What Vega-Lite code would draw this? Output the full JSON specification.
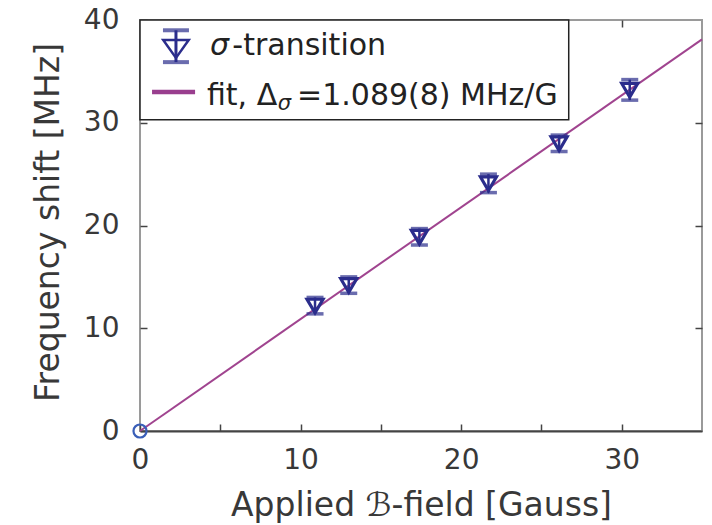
{
  "$schema": "https://vega.github.io/schema/vega-lite/v6.json",
  "width": 562,
  "height": 411,
  "autosize": "none",
  "padding": {"left": 140, "top": 20, "right": 10, "bottom": 94},
  "background": "white",
  "config": {
    "view": {"stroke": "#9a9a9a", "strokeWidth": 2},
    "font": "DejaVu Sans",
    "axis": {
      "grid": false,
      "domain": false,
      "labelFont": "DejaVu Sans",
      "titleFont": "DejaVu Sans",
      "labelColor": "#383838",
      "titleColor": "#383838",
      "labelFontSize": 28,
      "titleFontSize": 33,
      "titleFontWeight": "normal",
      "tickColor": "#444444",
      "tickWidth": 1.5,
      "labelFlush": false,
      "zindex": 1
    }
  },
  "datasets": {
    "fit": [
      {"field": 0, "shift": 0},
      {"field": 35, "shift": 38.115}
    ],
    "points": [
      {"field": 10.9, "shift": 12.2, "lo": 11.4, "hi": 13.0},
      {"field": 13.0, "shift": 14.2, "lo": 13.4, "hi": 15.0},
      {"field": 17.4, "shift": 18.9, "lo": 18.1, "hi": 19.7},
      {"field": 21.7, "shift": 24.1, "lo": 23.2, "hi": 25.0},
      {"field": 26.1, "shift": 28.0, "lo": 27.2, "hi": 28.8},
      {"field": 30.5, "shift": 33.2, "lo": 32.2, "hi": 34.2}
    ],
    "origin": [{"field": 0, "shift": 0}],
    "legendBox": [{"x0": 0, "x1": 26.7, "y0": 30.3, "y1": 40}],
    "legendMarker": [{"x": 2.24, "y": 37.3, "lo": 35.9, "hi": 39.0}],
    "legendLine": [{"x": 0.75, "y": 33.0}, {"x": 3.43, "y": 33.0}],
    "legendText": [
      {"x": 5.75, "y": 36.6, "text": "-transition"},
      {"x": 4.17, "y": 31.73, "text": "fit, Δ"},
      {"x": 9.78, "y": 31.73, "text": "=1.089(8) MHz/G"}
    ],
    "legendSigma": [{"x": 4.36, "y": 36.6, "text": "σ"}],
    "legendSub": [{"x": 8.58, "y": 31.24, "text": "σ"}]
  },
  "resolve": {"axis": {"x": "independent", "y": "independent"}},
  "layer": [
    {
      "data": {"name": "fit"},
      "mark": {"type": "line", "color": "#a0448f", "strokeWidth": 2},
      "encoding": {
        "x": {
          "field": "field", "type": "quantitative",
          "scale": {"domain": [0, 35], "nice": false, "zero": false},
          "axis": {
            "orient": "bottom",
            "values": [0, 5, 10, 15, 20, 25, 30],
            "labelExpr": "datum.value % 10 === 0 ? datum.label : ''",
            "tickSize": -7,
            "labelPadding": 22,
            "domain": true,
            "domainColor": "#444444",
            "domainWidth": 2,
            "title": "Applied ℬ-field [Gauss]",
            "titleBaseline": "alphabetic",
            "titleY": 84
          }
        },
        "y": {
          "field": "shift", "type": "quantitative",
          "scale": {"domain": [0, 40], "nice": false, "zero": false},
          "axis": {
            "orient": "left",
            "values": [0, 10, 20, 30, 40],
            "tickSize": -7,
            "labelPadding": 28,
            "title": "Frequency shift [MHz]",
            "titleBaseline": "alphabetic",
            "titleX": -82,
            "titleY": 202,
            "titleAngle": -90
          }
        }
      }
    },
    {
      "data": {"name": "points"},
      "mark": {"type": "rule", "color": "#2b2d8c", "strokeWidth": 2.5},
      "encoding": {
        "x": {
          "field": "field", "type": "quantitative",
          "axis": {
            "orient": "top",
            "values": [5, 10, 15, 20, 25, 30],
            "labels": false,
            "tickSize": -7,
            "title": null
          }
        },
        "y": {
          "field": "lo", "type": "quantitative",
          "axis": {
            "orient": "right",
            "values": [10, 20, 30],
            "labels": false,
            "tickSize": -7,
            "title": null
          }
        },
        "y2": {"field": "hi"}
      }
    },
    {
      "data": {"name": "points"},
      "mark": {"type": "tick", "orient": "horizontal", "color": "#2b2d8c", "size": 17, "thickness": 3.5},
      "encoding": {
        "x": {"field": "field", "type": "quantitative", "axis": null},
        "y": {"field": "lo", "type": "quantitative", "axis": null}
      }
    },
    {
      "data": {"name": "points"},
      "mark": {"type": "tick", "orient": "horizontal", "color": "#2b2d8c", "size": 17, "thickness": 3.5},
      "encoding": {
        "x": {"field": "field", "type": "quantitative", "axis": null},
        "y": {"field": "hi", "type": "quantitative", "axis": null}
      }
    },
    {
      "data": {"name": "points"},
      "mark": {"type": "point", "shape": "M-1,-0.8H1L0,0.9Z", "filled": false, "color": "#2b2d8c", "strokeWidth": 3.2, "size": 256, "opacity": 1},
      "encoding": {
        "x": {"field": "field", "type": "quantitative", "axis": null},
        "y": {"field": "shift", "type": "quantitative", "axis": null}
      }
    },
    {
      "data": {"name": "origin"},
      "mark": {"type": "point", "shape": "circle", "filled": false, "color": "#3a5fb8", "strokeWidth": 2.2, "size": 170, "opacity": 1},
      "encoding": {
        "x": {"field": "field", "type": "quantitative", "axis": null},
        "y": {"field": "shift", "type": "quantitative", "axis": null}
      }
    },
    {
      "data": {"name": "legendBox"},
      "mark": {"type": "rect", "fill": "white", "stroke": "#222222", "strokeWidth": 1.5},
      "encoding": {
        "x": {"field": "x0", "type": "quantitative", "axis": null},
        "x2": {"field": "x1"},
        "y": {"field": "y0", "type": "quantitative", "axis": null},
        "y2": {"field": "y1"}
      }
    },
    {
      "data": {"name": "legendMarker"},
      "mark": {"type": "rule", "color": "#2b2d8c", "strokeWidth": 3},
      "encoding": {
        "x": {"field": "x", "type": "quantitative", "axis": null},
        "y": {"field": "lo", "type": "quantitative", "axis": null},
        "y2": {"field": "hi"}
      }
    },
    {
      "data": {"name": "legendMarker"},
      "mark": {"type": "tick", "orient": "horizontal", "color": "#2b2d8c", "size": 26, "thickness": 4},
      "encoding": {
        "x": {"field": "x", "type": "quantitative", "axis": null},
        "y": {"field": "lo", "type": "quantitative", "axis": null}
      }
    },
    {
      "data": {"name": "legendMarker"},
      "mark": {"type": "tick", "orient": "horizontal", "color": "#2b2d8c", "size": 26, "thickness": 4},
      "encoding": {
        "x": {"field": "x", "type": "quantitative", "axis": null},
        "y": {"field": "hi", "type": "quantitative", "axis": null}
      }
    },
    {
      "data": {"name": "legendMarker"},
      "mark": {"type": "point", "shape": "M-1,-0.6H1L0,0.8Z", "filled": false, "color": "#2b2d8c", "strokeWidth": 2.5, "size": 650, "opacity": 1},
      "encoding": {
        "x": {"field": "x", "type": "quantitative", "axis": null},
        "y": {"field": "y", "type": "quantitative", "axis": null}
      }
    },
    {
      "data": {"name": "legendLine"},
      "mark": {"type": "line", "color": "#993e8e", "strokeWidth": 4.5},
      "encoding": {
        "x": {"field": "x", "type": "quantitative", "axis": null},
        "y": {"field": "y", "type": "quantitative", "axis": null}
      }
    },
    {
      "data": {"name": "legendText"},
      "mark": {"type": "text", "align": "left", "baseline": "alphabetic", "fontSize": 30, "color": "#222222"},
      "encoding": {
        "x": {"field": "x", "type": "quantitative", "axis": null},
        "y": {"field": "y", "type": "quantitative", "axis": null},
        "text": {"field": "text"}
      }
    },
    {
      "data": {"name": "legendSigma"},
      "mark": {"type": "text", "align": "left", "baseline": "alphabetic", "fontSize": 30, "fontStyle": "italic", "color": "#222222"},
      "encoding": {
        "x": {"field": "x", "type": "quantitative", "axis": null},
        "y": {"field": "y", "type": "quantitative", "axis": null},
        "text": {"field": "text"}
      }
    },
    {
      "data": {"name": "legendSub"},
      "mark": {"type": "text", "align": "left", "baseline": "alphabetic", "fontSize": 21, "fontStyle": "italic", "color": "#222222"},
      "encoding": {
        "x": {"field": "x", "type": "quantitative", "axis": null},
        "y": {"field": "y", "type": "quantitative", "axis": null},
        "text": {"field": "text"}
      }
    }
  ]
}
